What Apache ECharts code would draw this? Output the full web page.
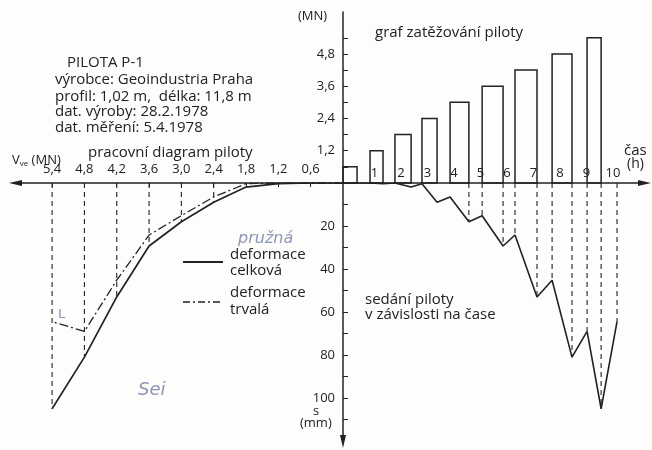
<!DOCTYPE html>
<html>
<head>
<meta charset="UTF-8" />
<title>Pilota P-1</title>
<style>
  * { margin: 0; padding: 0; }
  html, body { background: #fdfdfc; }
  #chart { width: 652px; height: 450px; }
</style>
</head>
<body>
<div id="chart"></div>
<script src="https://cdn.jsdelivr.net/npm/echarts@6/dist/echarts.min.js"></script>
<script>
// zatěžovací stupně (MN)
const loads = [0.6, 1.2, 1.8, 2.4, 3.0, 3.6, 4.2, 4.8, 5.4]
// začátek a konec každého stupně (h)
const barStart = [0, 1.02, 1.96, 2.98, 4.04, 5.25, 6.49, 7.89, 9.21]
const barEnd = [0.53, 1.51, 2.57, 3.55, 4.75, 6.04, 7.32, 8.64, 9.74]
// sedání (mm)
const settleTotal = [0, 0.3, 1.9, 9, 18, 29.3, 53, 81, 105]
const settlePerm = [0, 0, 0.3, 6.5, 15.2, 24.2, 45.2, 69, 64.5]
const endTime = 10.34
const dropFrom = 4 // svislé čárkované od 4. stupně

const hourLabels = [1, 2, 3, 4, 5, 6, 7, 8, 9, 10]
const loadLabelsUp = [1.2, 2.4, 3.6, 4.8]
const settleTicks = [10, 20, 30, 40, 50, 60, 70, 80, 90, 100, 110]
const settleLabels = [20, 40, 60, 80, 100]
const leftDrops = [2.4, 3.0, 3.6, 4.2, 4.8, 5.4]

const ink = '#222'
const pen = '#8d97b3'
const font = 'Open Sans'

// křivka sedání v čase
let timeCurve = [[0, 0]]
let drops = []
for (let i = 0; i < loads.length; i++) {
  let prev = i ? settlePerm[i - 1] : 0
  timeCurve.push([barStart[i], prev])
  timeCurve.push([barEnd[i], settleTotal[i]])
  if (i >= dropFrom) {
    drops.push([barEnd[i], settleTotal[i]])
    if (i > dropFrom) drops.push([barStart[i], prev])
  }
}
timeCurve.push([endTime, settlePerm[settlePerm.length - 1]])
drops.push([endTime, settlePerm[settlePerm.length - 1]])

let totalCurve = [[0, 0]].concat(loads.map((l, i) => [l, settleTotal[i]]))
let permCurve = [[0, 0]].concat(loads.map((l, i) => [l, settlePerm[i]]))
let leftDropData = leftDrops.map(l => [l, settleTotal[loads.indexOf(l)]])

const comma = v => v.toFixed(1).replace('.', ',')

function dropItem(params, api) {
  let a = api.coord([api.value(0), 0])
  let b = api.coord([api.value(0), api.value(1)])
  return {
    type: 'line',
    shape: { x1: a[0], y1: a[1], x2: b[0], y2: b[1] },
    style: { stroke: ink, lineWidth: 1.1, lineDash: [5, 4] }
  }
}

let chart = echarts.init(document.getElementById('chart'))

function txt(x, y, text, size, extra) {
  return {
    type: 'text', x: x, y: y,
    style: Object.assign({ text: text, font: (size || 15) + 'px "' + font + '"', fill: ink }, extra || {})
  }
}

function arrow(points) {
  return { type: 'polygon', shape: { points: points }, style: { fill: ink } }
}

const axisLinePlain = { show: true, onZero: false, lineStyle: { color: ink, width: 1.5 } }

let option = {
  backgroundColor: '#fdfdfc',
  animation: false,
  grid: [
    { left: 343, top: 12, width: 300, height: 171, containLabel: false },
    { left: 343, top: 183, width: 300, height: 258, containLabel: false },
    { left: 16, top: 183, width: 327, height: 258, containLabel: false }
  ],
  xAxis: [
    { gridIndex: 0, type: 'value', min: 0, max: 11.32, show: false },
    {
      gridIndex: 1, type: 'value', min: 0, max: 11.32, position: 'top',
      axisLine: axisLinePlain,
      axisTick: { show: false },
      splitLine: { show: false },
      axisLabel: {
        customValues: hourLabels, margin: 3, color: ink, fontFamily: font, fontSize: 13,
        padding: [0, 0, 0, 10]
      }
    },
    {
      gridIndex: 2, type: 'value', inverse: true, min: 0, max: 6.07, position: 'top',
      axisLine: axisLinePlain,
      axisTick: { show: true, inside: true, length: 4, customValues: loads, lineStyle: { color: ink } },
      splitLine: { show: false },
      axisLabel: { customValues: loads, margin: 7, color: ink, fontFamily: font, fontSize: 13, formatter: comma }
    }
  ],
  yAxis: [
    {
      gridIndex: 0, type: 'value', min: 0, max: 6.36,
      axisLine: axisLinePlain,
      axisTick: { show: true, inside: true, length: 5, customValues: loads, lineStyle: { color: ink } },
      splitLine: { show: false },
      axisLabel: { customValues: loadLabelsUp, margin: 8, color: ink, fontFamily: font, fontSize: 13, formatter: comma }
    },
    {
      gridIndex: 1, type: 'value', min: 0, max: 120, inverse: true,
      axisLine: axisLinePlain,
      axisTick: { show: true, inside: true, length: 5, customValues: settleTicks, lineStyle: { color: ink } },
      splitLine: { show: false },
      axisLabel: { customValues: settleLabels, margin: 8, color: ink, fontFamily: font, fontSize: 13 }
    },
    { gridIndex: 2, type: 'value', min: 0, max: 120, inverse: true, show: false }
  ],
  series: [
    {
      type: 'custom', xAxisIndex: 0, yAxisIndex: 0,
      data: loads.map((l, i) => [barStart[i], barEnd[i], l]),
      renderItem: function (params, api) {
        let a = api.coord([api.value(0), api.value(2)])
        let b = api.coord([api.value(1), 0])
        return {
          type: 'rect',
          shape: { x: a[0], y: a[1], width: b[0] - a[0], height: b[1] - a[1] },
          style: { fill: 'none', stroke: ink, lineWidth: 1.5 }
        }
      }
    },
    {
      type: 'custom', xAxisIndex: 1, yAxisIndex: 1,
      data: drops, renderItem: dropItem
    },
    {
      type: 'line', xAxisIndex: 1, yAxisIndex: 1, data: timeCurve,
      symbol: 'none', lineStyle: { color: ink, width: 1.6 }
    },
    {
      type: 'custom', xAxisIndex: 2, yAxisIndex: 2,
      data: leftDropData, renderItem: dropItem
    },
    {
      type: 'line', xAxisIndex: 2, yAxisIndex: 2, data: totalCurve,
      symbol: 'none', lineStyle: { color: ink, width: 1.7 }
    },
    {
      type: 'line', xAxisIndex: 2, yAxisIndex: 2, data: permCurve,
      symbol: 'none', lineStyle: { color: ink, width: 1.3, type: [9, 3, 2, 3] }
    }
  ],
  graphic: [
    // šipky os
    arrow([[651, 183], [638, 180], [638, 186]]),
    arrow([[9, 183], [22, 180], [22, 186]]),
    arrow([[343, 448], [340, 435], [346, 435]]),
    txt(298, 10, '(MN)', 13),
    txt(375, 25, 'graf zatěžování piloty'),
    txt(624, 143, 'čas', 15),
    txt(627, 157, '(h)', 14),
    txt(67, 55, 'PILOTA P-1'),
    txt(55, 72, 'výrobce: Geoindustria Praha'),
    txt(55, 89, 'profil: 1,02 m,  délka: 11,8 m'),
    txt(55, 104, 'dat. výroby: 28.2.1978'),
    txt(55, 120, 'dat. měření: 5.4.1978'),
    txt(88, 145, 'pracovní diagram piloty'),
    {
      type: 'text', x: 12, y: 153,
      style: {
        text: '{v|V}{s|ve}{v| (MN)}',
        rich: {
          v: { fontFamily: font, fontSize: 13, fill: ink },
          s: { fontFamily: font, fontSize: 8, fill: ink, verticalAlign: 'bottom', padding: [7, 0, 0, 0] }
        }
      }
    },
    txt(230, 247, 'deformace'),
    txt(230, 263, 'celková'),
    txt(230, 285, 'deformace'),
    txt(230, 302, 'trvalá'),
    {
      type: 'line', shape: { x1: 183, y1: 262, x2: 223, y2: 262 },
      style: { stroke: ink, lineWidth: 1.8 }
    },
    {
      type: 'line', shape: { x1: 183, y1: 302, x2: 223, y2: 302 },
      style: { stroke: ink, lineWidth: 1.3, lineDash: [7, 3, 2, 3] }
    },
    txt(365, 292, 'sedání piloty'),
    txt(365, 307, 'v závislosti na čase'),
    txt(313, 405, 's', 13),
    txt(300, 417, '(mm)', 13),
    txt(238, 231, 'pružná', 16, { fill: pen, font: 'italic 16px "DejaVu Sans"' }),
    txt(138, 381, 'Sei', 18, { fill: pen, font: 'italic 18px "DejaVu Sans"' }),
    txt(58, 308, 'L', 13, { fill: pen, font: '13px "DejaVu Sans"' })
  ]
}

chart.setOption(option)
</script>
</body>
</html>
